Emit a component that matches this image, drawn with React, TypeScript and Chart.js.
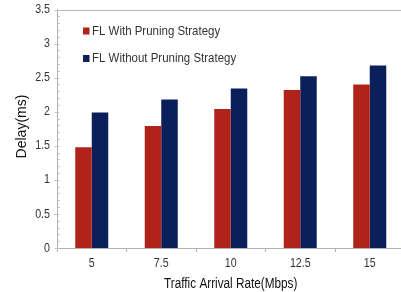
import React, { useEffect, useRef } from "react";
import { Chart, registerables } from "chart.js";

Chart.register(...registerables);

const categories = ["5", "7.5", "10", "12.5", "15"];
const withPruning = [1.48, 1.79, 2.04, 2.32, 2.40];
const withoutPruning = [1.99, 2.18, 2.34, 2.52, 2.68];
const seriesLabels = ["FL With Pruning Strategy", "FL Without Pruning Strategy"];
const seriesColors = ["#B0231B", "#0B1F5B"];
const xTitle = "Traffic Arrival Rate(Mbps)";
const yTitle = "Delay(ms)";
const yMax = 3.5;

const FONT = "'Liberation Sans', Arial, sans-serif";

function drawText(
  ctx: CanvasRenderingContext2D,
  text: string,
  x: number,
  y: number,
  size: number,
  align: CanvasTextAlign,
  sx: number,
  color: string,
  rotate = 0
) {
  ctx.save();
  ctx.translate(x, y);
  if (rotate) ctx.rotate(rotate);
  ctx.scale(sx, 1);
  ctx.font = `${size}px ${FONT}`;
  ctx.textAlign = align;
  ctx.textBaseline = "middle";
  ctx.fillStyle = color;
  ctx.fillText(text, 0, 0);
  ctx.restore();
}

const textPlugin = {
  id: "customText",
  afterDraw(chart: any) {
    const ctx: CanvasRenderingContext2D = chart.ctx;
    const area = chart.chartArea;
    const xs = chart.scales.x;
    const ys = chart.scales.y;

    // top border
    ctx.save();
    ctx.strokeStyle = "#b5b5b5";
    ctx.lineWidth = 1;
    ctx.beginPath();
    ctx.moveTo(area.left, Math.round(area.top) + 0.5);
    ctx.lineTo(area.right, Math.round(area.top) + 0.5);
    ctx.stroke();

    // y minor/major ticks
    const axisX = Math.round(area.left) + 0.5;
    ys.ticks.forEach((t: any) => {
      const py = Math.round(ys.getPixelForValue(t.value)) + 0.5;
      const n = Math.round(t.value * 10);
      ctx.strokeStyle = "#c4c4c4";
      ctx.beginPath();
      if (n % 5 === 0) {
        ctx.moveTo(axisX - 3, py);
        ctx.lineTo(axisX + 2, py);
      } else {
        ctx.moveTo(axisX, py);
        ctx.lineTo(axisX + 2.5, py);
      }
      ctx.stroke();
    });
    ctx.restore();

    // y tick labels
    ys.ticks.forEach((t: any) => {
      const n = Math.round(t.value * 10);
      if (n % 5 !== 0) return;
      const py = ys.getPixelForValue(t.value);
      drawText(ctx, String(n / 10), area.left - 7, py, 13, "right", 0.82, "#333");
    });

    // x tick labels
    chart.data.labels.forEach((lab: string, i: number) => {
      const px = xs.getPixelForTick(i);
      drawText(ctx, lab, px, area.bottom + 15.5, 13, "center", 0.82, "#333");
    });

    // axis titles
    drawText(ctx, xTitle, (area.left + area.right) / 2, 284, 14, "center", 0.84, "#111");
    drawText(ctx, yTitle, 22.5, 126.5, 14, "center", 1.0, "#111", -Math.PI / 2);

    // legend
    chart.data.datasets.forEach((ds: any, i: number) => {
      const x = area.left + 26;
      const y = area.top + 21.5 + i * 27.5;
      ctx.fillStyle = ds.backgroundColor;
      ctx.fillRect(x, y - 3.5, 6.5, 7);
      drawText(ctx, ds.label, x + 9, y, 13.5, "left", 0.85, "#333");
    });
  },
};

export default function App() {
  const ref = useRef<HTMLCanvasElement>(null);
  useEffect(() => {
    if (!ref.current) return;
    const chart = new Chart(ref.current, {
      type: "bar",
      data: {
        labels: categories,
        datasets: [
          { label: seriesLabels[0], data: withPruning, backgroundColor: seriesColors[0] },
          { label: seriesLabels[1], data: withoutPruning, backgroundColor: seriesColors[1] },
        ],
      },
      plugins: [textPlugin],
      options: {
        responsive: false,
        animation: false,
        layout: { padding: { top: 9.5, right: 4.5, bottom: 0, left: 0 } },
        datasets: { bar: { categoryPercentage: 0.475, barPercentage: 1 } },
        plugins: { legend: { display: false }, tooltip: { enabled: false } },
        scales: {
          x: {
            afterFit(scale: any) {
              scale.height = 44;
            },
            grid: {
              offset: true,
              drawOnChartArea: false,
              drawTicks: true,
              tickLength: 4,
              color: "#b0b0b0",
            },
            border: { color: "#b0b0b0" },
            ticks: { display: false },
          },
          y: {
            min: 0,
            max: yMax,
            afterFit(scale: any) {
              scale.width = 57;
            },
            ticks: { display: false, stepSize: 0.1, autoSkip: false },
            grid: { display: false },
            border: { display: true, color: "#b0b0b0" },
          },
        },
      },
    } as any);
    return () => chart.destroy();
  }, []);
  return (
    <div style={{ position: "fixed", left: 0, top: 0, width: 409, height: 292, background: "#fff" }}>
      <canvas ref={ref} width={409} height={292} style={{ width: 409, height: 292, display: "block" }} />
    </div>
  );
}
